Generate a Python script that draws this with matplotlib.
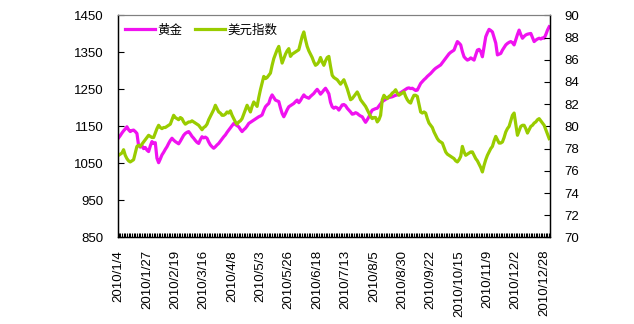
import matplotlib
matplotlib.use("Agg")
import matplotlib.pyplot as plt
from matplotlib.ticker import FixedLocator, MultipleLocator
import pandas as pd

# Trading days of 2010 (weekdays, Christmas Eve closed)
dates = pd.bdate_range("2010-01-04", "2010-12-31")
dates = dates[dates != pd.Timestamp("2010-12-24")]

# Gold price (USD/oz), left axis
gold = [
    1119, 1125, 1132, 1138, 1143, 1149, 1141, 1136, 1139, 1140,
    1136, 1131, 1098, 1094, 1098, 1090, 1093, 1086, 1082, 1097,
    1109, 1104, 1106, 1064, 1052, 1062, 1073, 1080, 1088, 1095,
    1104, 1112, 1118, 1113, 1109, 1106, 1103, 1110, 1118, 1126,
    1131, 1134, 1136, 1130, 1123, 1118, 1112, 1107, 1104, 1114,
    1122, 1119, 1121, 1118, 1108, 1100, 1095, 1091, 1095, 1100,
    1104, 1110, 1116, 1122, 1127, 1134, 1140, 1146, 1152, 1158,
    1155, 1152, 1149, 1142, 1136, 1141, 1145, 1151, 1158, 1161,
    1164, 1167, 1170, 1173, 1176, 1178, 1181, 1193, 1203, 1208,
    1212, 1226, 1235, 1228, 1221, 1219, 1217, 1200, 1185, 1176,
    1185, 1195, 1203, 1206, 1209, 1212, 1217, 1221, 1214, 1220,
    1228, 1235, 1230, 1228, 1226, 1231, 1235, 1239, 1245, 1250,
    1244, 1237, 1242, 1248, 1253, 1246, 1238, 1215, 1203, 1199,
    1202, 1200, 1194, 1201, 1208, 1209, 1206, 1199, 1194, 1189,
    1183, 1184, 1187, 1185, 1181, 1178, 1176, 1168, 1161, 1168,
    1176, 1186, 1194, 1196, 1198, 1199, 1205, 1211, 1217, 1220,
    1223, 1226, 1228, 1229, 1230, 1232, 1234, 1235, 1238, 1241,
    1244, 1247, 1250, 1253, 1254, 1252, 1253, 1250, 1247, 1248,
    1257, 1266, 1271, 1276, 1280, 1285, 1289, 1293, 1298, 1303,
    1307, 1310, 1313, 1316, 1322, 1328, 1334, 1340, 1346, 1350,
    1353, 1356, 1368, 1379, 1375, 1370, 1352, 1338, 1333, 1329,
    1331, 1335, 1332, 1329, 1343, 1356, 1358, 1352, 1338, 1365,
    1392, 1403, 1412, 1409, 1405, 1390, 1375, 1343, 1345, 1347,
    1356, 1363, 1370, 1374, 1377, 1379, 1376, 1370, 1384, 1398,
    1410, 1398, 1388, 1393, 1397, 1399, 1400, 1401, 1390, 1379,
    1383, 1386, 1388, 1386, 1389, 1388, 1398, 1410, 1419,
]

# US dollar index, right axis
usdx = [
    77.4, 77.5, 77.6, 77.9, 77.4, 77.1, 76.9, 76.8, 76.9, 77.0,
    77.6, 78.2, 78.3, 78.2, 78.4, 78.6, 78.8, 79.0, 79.2, 79.1,
    79.0, 79.0, 79.4, 79.8, 80.1, 79.9, 79.8, 79.9, 79.9, 80.0,
    80.1, 80.2, 80.6, 81.0, 80.8, 80.7, 80.6, 80.8, 80.7, 80.4,
    80.2, 80.3, 80.4, 80.4, 80.5, 80.4, 80.3, 80.2, 80.1, 79.9,
    79.7, 79.9, 80.0, 80.2, 80.6, 80.9, 81.2, 81.5, 81.9, 81.6,
    81.3, 81.2, 81.0, 81.0, 81.1, 81.3, 81.2, 81.4, 81.0, 80.7,
    80.4, 80.2, 80.4, 80.5, 80.7, 81.1, 81.5, 81.9, 81.6, 81.3,
    81.8, 82.2, 82.0, 81.8, 82.6, 83.3, 83.9, 84.5, 84.3, 84.4,
    84.6, 84.8, 85.5, 86.1, 86.5, 86.9, 87.2, 86.4, 85.7, 86.1,
    86.5, 86.8, 87.0, 86.3, 86.5, 86.6, 86.7, 86.8, 86.9, 87.5,
    88.1, 88.5, 87.8, 87.2, 86.8, 86.5, 86.2, 85.8, 85.5, 85.6,
    85.8, 86.2, 85.8, 85.5, 85.9, 86.2, 86.3, 85.4, 84.6, 84.4,
    84.3, 84.2, 84.0, 83.8, 84.0, 84.2, 83.8, 83.4, 82.9, 82.4,
    82.5, 82.7, 82.9, 83.1, 82.8, 82.4, 82.2, 82.0, 81.8, 81.5,
    81.2, 80.9, 80.7, 80.8, 80.8, 80.4, 80.6, 81.0, 82.4, 82.8,
    82.6, 82.5, 82.7, 82.8, 83.0, 83.1, 83.3, 83.0, 82.8, 82.9,
    83.0, 83.1, 82.7, 82.4, 82.2, 82.1, 82.5, 82.8, 82.8, 82.7,
    82.0, 81.3, 81.2, 81.3, 81.2, 80.7, 80.3, 80.1, 79.9, 79.5,
    79.2, 78.9, 78.7, 78.6, 78.5, 78.1, 77.7, 77.5, 77.4, 77.3,
    77.2, 77.1, 76.9, 76.8, 77.0, 77.3, 78.2, 77.7, 77.4, 77.5,
    77.6, 77.7, 77.7, 77.4, 77.1, 76.9, 76.6, 76.3, 75.9, 76.5,
    77.0, 77.4, 77.7, 78.0, 78.2, 78.7, 79.1, 78.8, 78.5, 78.5,
    78.6, 79.0, 79.5, 79.8, 80.0, 80.5, 81.0, 81.2, 80.2, 79.2,
    79.6, 80.0, 80.1, 80.1, 79.8, 79.4, 79.7, 80.0, 80.1, 80.3,
    80.4, 80.6, 80.7, 80.5, 80.3, 80.1, 79.7, 79.3, 78.9,
]

series_names = ["黄金", "美元指数"]
gold_ticks = [850, 950, 1050, 1150, 1250, 1350, 1450]
usdx_ticks = [70, 72, 74, 76, 78, 80, 82, 84, 86, 88, 90]
label_step = 17

plt.rcParams["font.family"] = ["Liberation Sans", "Noto Sans CJK SC", "DejaVu Sans"]

fig = plt.figure(figsize=(6.34, 3.24), dpi=100)
ax = fig.add_axes([0.1857, 0.267, 0.6818, 0.6858])
ax2 = ax.twinx()

x = list(range(len(dates)))
l1, = ax.plot(x, gold, color="#F012F0", lw=2.3, solid_joinstyle="round")
l2, = ax2.plot(x, usdx, color="#99CC00", lw=2.3, solid_joinstyle="round")

ax.set_xlim(-0.5, len(dates) - 0.5)
ax.set_ylim(gold_ticks[0], gold_ticks[-1])
ax.yaxis.set_major_locator(FixedLocator(gold_ticks))
ax2.set_ylim(usdx_ticks[0], usdx_ticks[-1])
ax2.yaxis.set_major_locator(FixedLocator(usdx_ticks))

tick_pos = x[::label_step]
tick_lab = [f"{d.year}/{d.month}/{d.day}" for d in dates[::label_step]]
ax.xaxis.set_major_locator(FixedLocator(tick_pos))
ax.set_xticklabels(tick_lab, rotation=90, fontsize=9.5)
ax.xaxis.set_minor_locator(FixedLocator(x))

ax.tick_params(axis="x", which="both", direction="in", length=3, width=0.8,
               pad=9, colors="black")
ax.tick_params(axis="y", direction="in", length=4, width=0.8, labelsize=9.5, pad=10)
ax2.tick_params(axis="y", direction="in", length=4, width=0.8, labelsize=9.5, pad=10)

for a in (ax, ax2):
    a.spines["top"].set_color("#808080")
    a.spines["top"].set_linewidth(0.8)
    for s in ("left", "right", "bottom"):
        a.spines[s].set_color("black")
        a.spines[s].set_linewidth(0.9)

leg = ax2.legend([l1, l2], series_names, loc="upper left",
                 bbox_to_anchor=(0.005, 0.985), ncol=2, frameon=False,
                 handlelength=2.4, handletextpad=0.2, columnspacing=1.0,
                 borderaxespad=0.0, prop={"family": ["Noto Sans CJK SC", "DejaVu Sans"], "size": 9})

fig.savefig("out.png", dpi=100, facecolor="white")
